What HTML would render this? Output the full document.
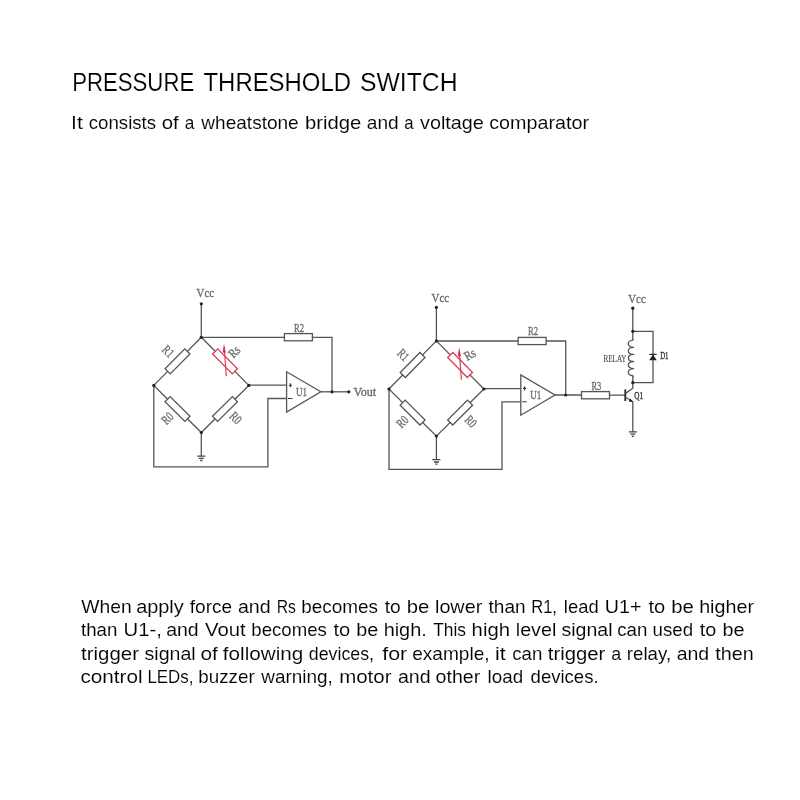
<!DOCTYPE html>
<html><head><meta charset="utf-8"><title>Pressure Threshold Switch</title>
<style>
html,body{margin:0;padding:0;background:#fff;}
body{width:800px;height:800px;overflow:hidden;font-family:"Liberation Sans",sans-serif;}
svg{display:block;}
.t{font-family:"Liberation Sans",sans-serif;fill:#000;stroke:#fff;stroke-width:0.15px;}
.w{fill:none;stroke:#555;stroke-width:1.3;stroke-linejoin:miter;stroke-linecap:butt;}
.t2{font-family:"Liberation Sans",sans-serif;fill:#000;stroke:#fff;stroke-width:0.1px;}
.r{fill:#fff;stroke:#555;stroke-width:1.3;}
.red{fill:none;stroke:#e23a55;stroke-width:1.2;}
.d{fill:#222;stroke:none;}
.l{font-family:"Liberation Serif",serif;font-size:13px;fill:#666;stroke:#6e6e6e;stroke-width:0.35px;}
.s{font-family:"Liberation Serif",serif;font-size:10px;fill:#4a4a4a;stroke:#4a4a4a;stroke-width:0.15px;}
</style></head>
<body>
<svg width="800" height="800" viewBox="0 0 800 800">
<defs>
  <filter id="bt" x="-2%" y="-20%" width="104%" height="140%"><feGaussianBlur stdDeviation="0.28"/></filter>
  <filter id="bl" x="-5%" y="-5%" width="110%" height="110%"><feGaussianBlur stdDeviation="0.5"/></filter>
  <!-- resistor body (centred) -->
  <rect id="res" class="r" x="-14" y="-3.6" width="28" height="7.2"/>
  <!-- wheatstone bridge diamond, left-circuit coordinates -->
  <g id="bridge">
    <path class="w" d="M201.3 303.8V337.3"/>
    <path class="w" d="M201.3 337.3L153.8 385.4L201.3 432.5L248.8 385.4Z"/>
    <path class="w" d="M201.3 432.5V456"/>
    <path class="w" d="M197.3 456.1H205.3M198.8 458.4H203.8M200.2 460.5H202.4" style="stroke:#444;stroke-width:1.3"/>
    <use href="#res" transform="translate(177.5 361.4) rotate(-45.4)"/>
    <use href="#res" transform="translate(177.5 409) rotate(44.8)"/>
    <use href="#res" transform="translate(225 409) rotate(-44.8)"/>
    <rect class="r" x="-14" y="-3.6" width="28" height="7.2" transform="translate(225 361.4) rotate(45.4)" style="stroke:#e23a55"/>
    <path class="red" d="M226.3 376.2L224.2 347"/>
    <path d="M224 343.8L225.7 352.4L222.8 352.6Z" fill="#e0203f"/>
    <circle class="d" cx="201.3" cy="303.8" r="1.6"/>
    <circle class="d" cx="201.3" cy="337.3" r="1.6"/>
    <circle class="d" cx="153.8" cy="385.4" r="1.6"/>
    <circle class="d" cx="248.8" cy="385.4" r="1.6"/>
    <circle class="d" cx="201.3" cy="432.5" r="1.6"/>
    <text class="l" transform="translate(168 351.5) rotate(45)" x="-5.5" y="4" textLength="11" lengthAdjust="spacingAndGlyphs">R1</text>
    <text class="l" transform="translate(167.5 418.5) rotate(-45)" x="-5.5" y="4" textLength="11" lengthAdjust="spacingAndGlyphs">R0</text>
    <text class="l" transform="translate(235.5 418) rotate(45)" x="-5.5" y="4" textLength="11" lengthAdjust="spacingAndGlyphs">R0</text>
  </g>
  <!-- op-amp, left-circuit coordinates -->
  <g id="amp">
    <path class="r" d="M286.6 371.8V412L320.8 391.8Z"/>
    <path class="w" d="M288.8 385.2H292M290.4 383.2V387.2M288 398.5H292.5" style="stroke:#333;stroke-width:1.1"/>
    <text class="l" x="296" y="396.2" textLength="11" lengthAdjust="spacingAndGlyphs">U1</text>
  </g>
</defs>
<rect width="800" height="800" fill="#fff"/>

<!-- headings -->
<g filter="url(#bt)">
<text class="t" x="72.2" y="90.8" font-size="25.4" textLength="122" lengthAdjust="spacingAndGlyphs">PRESSURE</text>
<text class="t" x="203.5" y="90.8" font-size="25.4" textLength="147.5" lengthAdjust="spacingAndGlyphs">THRESHOLD</text>
<text class="t" x="360" y="90.8" font-size="25.4" textLength="97.5" lengthAdjust="spacingAndGlyphs">SWITCH</text>
<text class="t2" font-size="18.6" transform="translate(71.06 129.4) scale(1.1400 1)">It</text>
<text class="t2" font-size="18.6" transform="translate(88.80 129.4) scale(1.0017 1)">consists</text>
<text class="t2" font-size="18.6" transform="translate(161.73 129.4) scale(1.0947 1)">of</text>
<text class="t2" font-size="18.6" transform="translate(184.85 129.4) scale(0.9278 1)">a</text>
<text class="t2" font-size="18.6" transform="translate(201.35 129.4) scale(1.0239 1)">wheatstone</text>
<text class="t2" font-size="18.6" transform="translate(305.05 129.4) scale(1.0881 1)">bridge</text>
<text class="t2" font-size="18.6" transform="translate(366.78 129.4) scale(1.0278 1)">and</text>
<text class="t2" font-size="18.6" transform="translate(404.37 129.4) scale(0.9021 1)">a</text>
<text class="t2" font-size="18.6" transform="translate(420.00 129.4) scale(1.0636 1)">voltage</text>
<text class="t2" font-size="18.6" transform="translate(489.26 129.4) scale(1.0609 1)">comparator</text>

</g>
<!-- circuits -->
<g filter="url(#bl)">
  <!-- ===== left circuit ===== -->
  <path class="w" d="M201.3 337.3H284.5M312.5 337.3H332V391.8"/>
  <path class="w" d="M153.8 385.4V466.8H267.9V398.5H287"/>
  <path class="w" d="M248.8 385.2H287"/>
  <path class="w" d="M320.8 391.8H348.8"/>
  <use href="#bridge"/>
  <use href="#amp"/>
  <use href="#res" transform="translate(298.4 337.2)"/>
  <circle class="d" cx="332" cy="391.8" r="1.6"/>
  <circle class="d" cx="348.8" cy="391.8" r="1.6"/>
  <text class="l" x="196.6" y="297.2" textLength="17.4" lengthAdjust="spacingAndGlyphs">Vcc</text>
  <text class="l" x="294" y="331.6" textLength="10" lengthAdjust="spacingAndGlyphs">R2</text>
  <text class="l" x="353.6" y="396.2" textLength="22.6" lengthAdjust="spacingAndGlyphs">Vout</text>
  <text class="l" transform="translate(234.5 352) rotate(-45)" x="-5.5" y="4" textLength="11" lengthAdjust="spacingAndGlyphs">Rs</text>

  <!-- ===== right circuit ===== -->
  <path class="w" d="M436.3 341H518M546 341H565.7V395"/>
  <path class="w" d="M389 388.9V469.3H502V401.9H521"/>
  <path class="w" d="M483.8 388.6H521"/>
  <path class="w" d="M554.8 395H581.2M609.8 395.2H625.3"/>
  <use href="#bridge" transform="translate(235.1 3.6)"/>
  <use href="#amp" transform="translate(234.2 3.2)"/>
  <use href="#res" transform="translate(532.1 341)"/>
  <use href="#res" transform="translate(595.5 395.2)"/>
  <circle class="d" cx="565.7" cy="395" r="1.6"/>
  <text class="l" x="431.6" y="302.2" textLength="17.4" lengthAdjust="spacingAndGlyphs">Vcc</text>
  <text class="l" x="528" y="335.2" textLength="10" lengthAdjust="spacingAndGlyphs">R2</text>
  <text class="l" x="591.4" y="389.8" textLength="9.8" lengthAdjust="spacingAndGlyphs">R3</text>
  <text class="l" transform="translate(470 354.8) rotate(-30)" x="-5.5" y="4" textLength="11" lengthAdjust="spacingAndGlyphs">Rs</text>

  <!-- output stage -->
  <path class="w" d="M625.3 389.4V401" style="stroke:#222;stroke-width:1.8"/>
  <path class="w" d="M625.3 393.6L632.8 388.2V308.2M625.3 397L632.8 401.8V431.8"/>
  <path d="M633.2 402.2L628.6 401.4L630.4 398.4Z" fill="#222"/>
  <path class="w" d="M628.9 431.9H636.9M630.4 434.2H635.4M631.8 436.3H634" style="stroke:#444;stroke-width:1.3"/>
  <path class="w" d="M632.8 331.3H653V382.7H632.8"/>
  <path d="M630.8 339.8h4v36h-4z" fill="#fff"/>
  <path class="w" d="M632.8 339V340.2 C626.6 340.4 626.6 347.2 633.6 347.3 C626.6 347.5 626.6 354.3 633.6 354.4 C626.6 354.6 626.6 361.4 633.6 361.5 C626.6 361.7 626.6 368.5 633.6 368.6 C626.6 368.8 626.6 375.6 632.8 375.7V377" style="stroke-linejoin:round"/>
  <path d="M653 354.4L656.8 360.2H649.2Z" fill="#222"/>
  <path class="w" d="M649.3 354.4H656.6" style="stroke:#222;stroke-width:1.2"/>
  <circle class="d" cx="632.8" cy="308.2" r="1.6"/>
  <circle class="d" cx="632.8" cy="331.3" r="1.6"/>
  <circle class="d" cx="632.8" cy="382.7" r="1.6"/>
  <text class="l" x="628.3" y="303" textLength="17.4" lengthAdjust="spacingAndGlyphs">Vcc</text>
  <text class="s" x="603.5" y="362" textLength="23" lengthAdjust="spacingAndGlyphs">RELAY</text>
  <text class="s" x="660.2" y="358.9" textLength="8.3" lengthAdjust="spacingAndGlyphs" style="fill:#333;stroke:#333;stroke-width:0.3px">D1</text>
  <text class="s" x="634.2" y="399.2" textLength="8.8" lengthAdjust="spacingAndGlyphs" style="fill:#333;stroke:#333;stroke-width:0.3px">Q1</text>
</g>

<!-- paragraph -->
<g filter="url(#bt)">
<text class="t2" font-size="19" transform="translate(81.25 612.7) scale(1.0162 1)">When</text>
<text class="t2" font-size="19" transform="translate(136.16 612.7) scale(1.0477 1)">apply</text>
<text class="t2" font-size="19" transform="translate(189.80 612.7) scale(0.9994 1)">force</text>
<text class="t2" font-size="19" transform="translate(237.92 612.7) scale(1.0342 1)">and</text>
<text class="t2" font-size="19" transform="translate(276.76 612.7) scale(0.8286 1)">Rs</text>
<text class="t2" font-size="19" transform="translate(301.30 612.7) scale(0.9961 1)">becomes</text>
<text class="t2" font-size="19" transform="translate(384.80 612.7) scale(1.0081 1)">to</text>
<text class="t2" font-size="19" transform="translate(406.72 612.7) scale(1.0696 1)">be</text>
<text class="t2" font-size="19" transform="translate(435.00 612.7) scale(1.0403 1)">lower</text>
<text class="t2" font-size="19" transform="translate(488.55 612.7) scale(1.0039 1)">than</text>
<text class="t2" font-size="19" transform="translate(531.19 612.7) scale(0.8716 1)">R1,</text>
<text class="t2" font-size="19" transform="translate(563.84 612.7) scale(0.9686 1)">lead</text>
<text class="t2" font-size="19" transform="translate(604.80 612.7) scale(1.0351 1)">U1+</text>
<text class="t2" font-size="19" transform="translate(648.54 612.7) scale(1.0586 1)">to</text>
<text class="t2" font-size="19" transform="translate(671.22 612.7) scale(1.0696 1)">be</text>
<text class="t2" font-size="19" transform="translate(699.15 612.7) scale(1.0382 1)">higher</text>
<text class="t2" font-size="19" transform="translate(81.05 636.1) scale(0.9828 1)">than</text>
<text class="t2" font-size="19" transform="translate(123.51 636.1) scale(1.0666 1)">U1-,</text>
<text class="t2" font-size="19" transform="translate(166.18 636.1) scale(1.0258 1)">and</text>
<text class="t2" font-size="19" transform="translate(205.00 636.1) scale(1.0670 1)">Vout</text>
<text class="t2" font-size="19" transform="translate(251.32 636.1) scale(0.9795 1)">becomes</text>
<text class="t2" font-size="19" transform="translate(333.54 636.1) scale(1.0586 1)">to</text>
<text class="t2" font-size="19" transform="translate(356.25 636.1) scale(1.0435 1)">be</text>
<text class="t2" font-size="19" transform="translate(383.64 636.1) scale(1.0465 1)">high.</text>
<text class="t2" font-size="19" transform="translate(433.13 636.1) scale(0.9171 1)">This</text>
<text class="t2" font-size="19" transform="translate(471.61 636.1) scale(1.0686 1)">high</text>
<text class="t2" font-size="19" transform="translate(515.76 636.1) scale(1.0367 1)">level</text>
<text class="t2" font-size="19" transform="translate(561.49 636.1) scale(1.0277 1)">signal</text>
<text class="t2" font-size="19" transform="translate(617.21 636.1) scale(0.9855 1)">can</text>
<text class="t2" font-size="19" transform="translate(652.57 636.1) scale(0.9850 1)">used</text>
<text class="t2" font-size="19" transform="translate(699.79 636.1) scale(1.0418 1)">to</text>
<text class="t2" font-size="19" transform="translate(722.50 636.1) scale(1.0435 1)">be</text>
<text class="t2" font-size="19" transform="translate(81.03 659.9) scale(1.0762 1)">trigger</text>
<text class="t2" font-size="19" transform="translate(144.48 659.9) scale(1.0329 1)">signal</text>
<text class="t2" font-size="19" transform="translate(200.48 659.9) scale(1.0971 1)">of</text>
<text class="t2" font-size="19" transform="translate(222.78 659.9) scale(1.0887 1)">following</text>
<text class="t2" font-size="19" transform="translate(308.84 659.9) scale(0.9358 1)">devices,</text>
<text class="t2" font-size="19" transform="translate(382.27 659.9) scale(1.1267 1)">for</text>
<text class="t2" font-size="19" transform="translate(412.20 659.9) scale(1.0051 1)">example,</text>
<text class="t2" font-size="19" transform="translate(494.90 659.9) scale(1.1251 1)">it</text>
<text class="t2" font-size="19" transform="translate(512.21 659.9) scale(0.9855 1)">can</text>
<text class="t2" font-size="19" transform="translate(547.79 659.9) scale(1.0669 1)">trigger</text>
<text class="t2" font-size="19" transform="translate(611.24 659.9) scale(0.9439 1)">a</text>
<text class="t2" font-size="19" transform="translate(626.82 659.9) scale(0.9841 1)">relay,</text>
<text class="t2" font-size="19" transform="translate(676.68 659.9) scale(1.0258 1)">and</text>
<text class="t2" font-size="19" transform="translate(715.29 659.9) scale(1.0390 1)">then</text>
<text class="t2" font-size="19" transform="translate(80.38 682.8) scale(1.0908 1)">control</text>
<text class="t2" font-size="19" transform="translate(147.41 682.8) scale(0.8906 1)">LEDs,</text>
<text class="t2" font-size="19" transform="translate(198.31 682.8) scale(0.9892 1)">buzzer</text>
<text class="t2" font-size="19" transform="translate(261.35 682.8) scale(0.9966 1)">warning,</text>
<text class="t2" font-size="19" transform="translate(339.21 682.8) scale(1.0766 1)">motor</text>
<text class="t2" font-size="19" transform="translate(397.92 682.8) scale(1.0342 1)">and</text>
<text class="t2" font-size="19" transform="translate(435.53 682.8) scale(1.0323 1)">other</text>
<text class="t2" font-size="19" transform="translate(487.56 682.8) scale(0.9909 1)">load</text>
<text class="t2" font-size="19" transform="translate(530.57 682.8) scale(0.9767 1)">devices.</text>
</g>
</svg>
</body></html>
